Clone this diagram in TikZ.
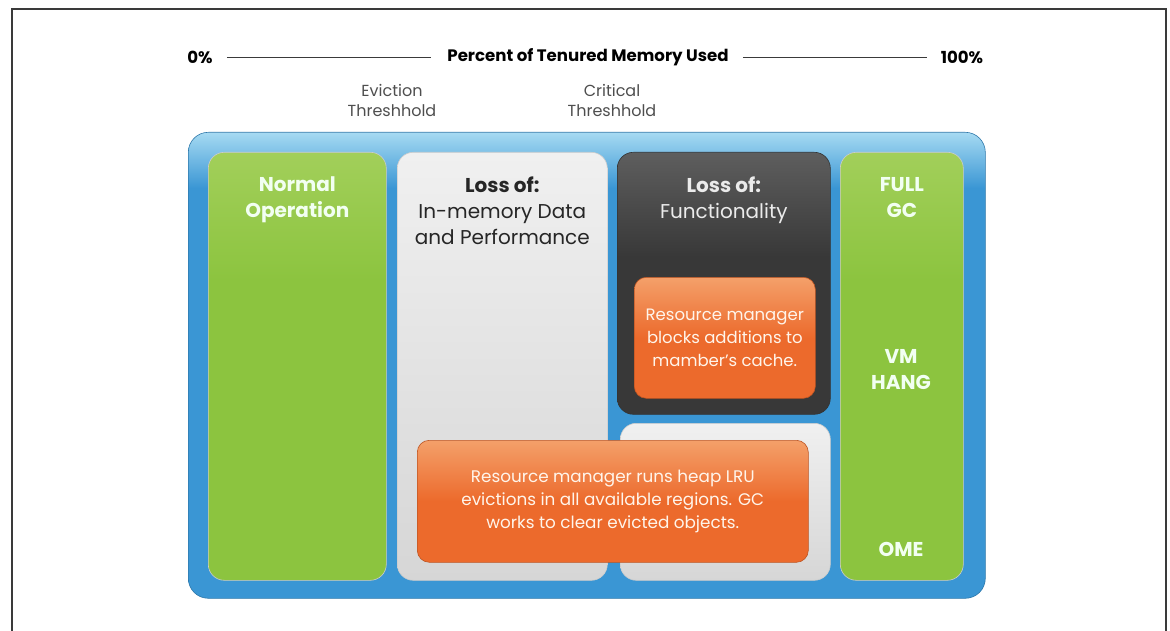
\documentclass[tikz,border=0pt]{standalone}
\usepackage{fontspec}
\setmainfont{Poppins}
\usetikzlibrary{positioning}
\definecolor{framegray}{HTML}{3A3A3A}
\definecolor{bluebg}{HTML}{3A96D4}
\definecolor{bluetop}{HTML}{A6DAF2}
\definecolor{greenbox}{HTML}{8CC43F}
\definecolor{greentop}{HTML}{A2CF5A}
\definecolor{lightbox}{HTML}{D6D6D6}
\definecolor{lighttop}{HTML}{F0F0F0}
\definecolor{darkbox}{HTML}{383838}
\definecolor{darktop}{HTML}{5E5E5E}
\definecolor{orangebox}{HTML}{EC6A2C}
\definecolor{orangetop}{HTML}{F4A06A}
\pgfdeclareverticalshading{heapshade}{100bp}{color(0bp)=(bluebg); color(69bp)=(bluebg); color(75bp)=(bluetop); color(100bp)=(bluetop)}
\pgfdeclareverticalshading{darkshade}{100bp}{color(0bp)=(darkbox); color(55bp)=(darkbox); color(75bp)=(darktop); color(100bp)=(darktop)}
\pgfdeclareverticalshading{greenshade}{100bp}{color(0bp)=(greenbox); color(60bp)=(greenbox); color(75bp)=(greentop); color(100bp)=(greentop)}
\tikzstyle{panel} = [rounded corners=16pt, inner sep=0pt, anchor=north west, draw=white!60!gray, line width=0.6pt]
\tikzstyle{head} = [inner sep=0pt, align=center, font=\fontsize{20}{26}\selectfont]
\tikzstyle{note} = [inner sep=0pt, align=center, text=white!92!orange, font=\fontsize{16.5}{23}\selectfont]

\begin{document}
\begin{tikzpicture}[x=1pt,y=-1pt]
	\useasboundingbox (0,0) rectangle (1170,631);
	\draw[framegray,line width=1.5pt] (12,631) -- (12,9) -- (1166,9) -- (1166,631);
	% scale across the top
	\node[inner sep=0pt,font=\fontsize{16.6}{20}\selectfont\bfseries] (zero) at (200,57) {0\%};
	\node[inner sep=0pt,font=\fontsize{16.6}{20}\selectfont\bfseries] (title) at (588,57) {Percent of Tenured Memory Used};
	\node[inner sep=0pt,font=\fontsize{16.6}{20}\selectfont\bfseries] (hundred) at (962,57) {100\%};
	\draw[framegray,line width=0.8pt] ([xshift=14pt]zero.east) -- ([xshift=-16pt]title.west);
	\draw[framegray,line width=0.8pt] ([xshift=14pt]title.east) -- ([xshift=-14pt]hundred.west);
	\node[inner sep=0pt,align=center,text=framegray!90,font=\fontsize{16}{20}\selectfont] (eviction) at (392,100) {Eviction\\Threshhold};
	\node[inner sep=0pt,align=center,text=framegray!90,font=\fontsize{16}{20}\selectfont] (critical) at (612,100) {Critical\\Threshhold};
	% panels
	\node[panel, rounded corners=20pt, shading=heapshade, draw=bluebg!80!black, minimum width=797pt, minimum height=466pt] (heap) at (188,132) {};
	\node[panel, shading=greenshade, minimum width=178pt, minimum height=428pt] (normal) at (208,152) {};
	\node[panel, top color=lighttop, bottom color=lightbox, minimum width=210pt, minimum height=428pt] (eviction box) at (397,152) {};
	\node[panel, shading=darkshade, draw=black!80, minimum width=213pt, minimum height=262pt] (critical box) at (617,152) {};
	\node[panel, top color=lighttop, bottom color=lightbox, minimum width=210pt, minimum height=157pt] (lower box) at (620,423) {};
	\node[panel, shading=greenshade, minimum width=123pt, minimum height=428pt] (fullgc) at (840,152) {};
	\node[panel, rounded corners=12pt, top color=orangetop, bottom color=orangebox, middle color=orangebox, draw=orangebox!80!black, minimum width=181pt, minimum height=121pt] (blocks) at (634,277) {};
	\node[panel, rounded corners=12pt, top color=orangetop, bottom color=orangebox, middle color=orangebox, draw=orangebox!80!black, minimum width=391pt, minimum height=122pt] (evicts) at (417,440) {};
	% headings
	\node[head, text=white!95!green, font=\fontsize{20}{26}\selectfont\bfseries, below=25pt of normal.north] {Normal\\Operation};
	\node[head, text=black!85, below=25pt of eviction box.north] {\textbf{Loss of:}\\In-memory Data\\and Performance};
	\node[head, text=white!92!black, below=25pt of critical box.north] {\textbf{Loss of:}\\Functionality};
	\node[head, text=white!95!green, font=\fontsize{20}{26}\selectfont\bfseries, below=25pt of fullgc.north] {FULL\\GC};
	\node[head, text=white!95!green, font=\fontsize{20}{26}\selectfont\bfseries] at (901,370) {VM\\HANG};
	\node[head, text=white!95!green, font=\fontsize{20}{26}\selectfont\bfseries] at (901,549) {OME};
	% notes
	\node[note] at (blocks.center) {Resource manager\\blocks additions to\\mamber's cache.};
	\node[note, font=\fontsize{16.8}{23}\selectfont] at (evicts.center) {Resource manager runs heap LRU\\evictions in all available regions. GC\\works to clear evicted objects.};
\end{tikzpicture}
\end{document}
